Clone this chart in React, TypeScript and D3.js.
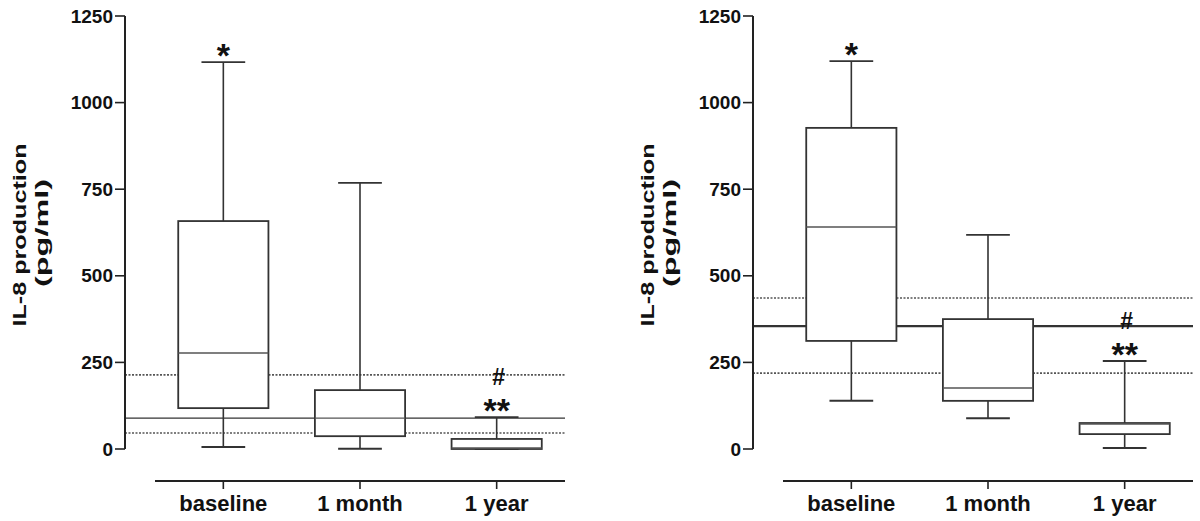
import React from "react";
import * as d3 from "d3";

const categories = ["baseline", "1 month", "1 year"];
const yTicks = [0, 250, 500, 750, 1000, 1250];

// Left panel box statistics
const leftMin = [6, 1, 0];
const leftQ1 = [118, 37, 0];
const leftMedian = [277, 89, 3];
const leftQ3 = [658, 170, 29];
const leftMax = [1117, 768, 92];
// reference lines: upper dotted, solid, lower dotted
const leftRef = [214, 89, 46];

// Right panel box statistics
const rightMin = [139, 89, 3];
const rightQ1 = [312, 139, 43];
const rightMedian = [641, 176, 72];
const rightQ3 = [927, 375, 75];
const rightMax = [1120, 618, 254];
const rightRef = [436, 355, 219];

// significance marks
const starMarks = ["*", "", "**"];
const hashMarks = ["", "", "#"];

const FONT = "'Liberation Sans', Arial, Helvetica, sans-serif";

type PanelProps = {
  axisX: number;
  mins: number[];
  q1: number[];
  med: number[];
  q3: number[];
  maxs: number[];
  refs: number[];
  solidWidth: number;
};

function Panel({ axisX, mins, q1, med, q3, maxs, refs, solidWidth }: PanelProps) {
  const y = d3.scaleLinear().domain([0, 1250]).range([449, 16]);
  const x = d3
    .scaleBand<string>()
    .domain(categories)
    .range([axisX + 30, axisX + 440])
    .padding(0);
  const bw = x.bandwidth();
  const boxW = bw * 0.66;
  const capW = bw * 0.32;
  const xEnd = axisX + 440;
  const boxStroke = "#333";

  return (
    <g>
      {/* reference lines */}
      <line x1={axisX} x2={xEnd} y1={y(refs[0])} y2={y(refs[0])} stroke="#555" strokeWidth={1.6} strokeDasharray="2 1.5" />
      <line x1={axisX} x2={xEnd} y1={y(refs[1])} y2={y(refs[1])} stroke="#333" strokeWidth={solidWidth} />
      <line x1={axisX} x2={xEnd} y1={y(refs[2])} y2={y(refs[2])} stroke="#555" strokeWidth={1.6} strokeDasharray="2 1.5" />

      {/* boxes */}
      {categories.map((c, i) => {
        const cx = (x(c) as number) + bw / 2;
        return (
          <g key={c}>
            <line x1={cx} x2={cx} y1={y(maxs[i])} y2={y(q3[i])} stroke={boxStroke} strokeWidth={1.6} />
            <line x1={cx} x2={cx} y1={y(q1[i])} y2={y(mins[i])} stroke={boxStroke} strokeWidth={1.6} />
            <line x1={cx - capW / 2} x2={cx + capW / 2} y1={y(maxs[i])} y2={y(maxs[i])} stroke={boxStroke} strokeWidth={1.8} />
            <line x1={cx - capW / 2} x2={cx + capW / 2} y1={y(mins[i])} y2={y(mins[i])} stroke={boxStroke} strokeWidth={2} />
            <rect
              x={cx - boxW / 2}
              y={y(q3[i])}
              width={boxW}
              height={Math.max(y(q1[i]) - y(q3[i]), 1)}
              fill="#fff"
              stroke={boxStroke}
              strokeWidth={1.8}
            />
            <line x1={cx - boxW / 2} x2={cx + boxW / 2} y1={y(med[i])} y2={y(med[i])} stroke="#555" strokeWidth={1.4} />
            {starMarks[i] && (
              <text
                x={cx}
                y={y(maxs[i]) + 5}
                textAnchor="middle"
                fontFamily={FONT}
                fontWeight="bold"
                fontSize={34}
                fill="#111"
              >
                {starMarks[i]}
              </text>
            )}
            {hashMarks[i] && (
              <text
                x={cx + 2}
                y={y(maxs[i]) - 32}
                textAnchor="middle"
                fontFamily={FONT}
                fontWeight="bold"
                fontSize={23}
                fill="#111"
              >
                {hashMarks[i]}
              </text>
            )}
          </g>
        );
      })}

      {/* y axis */}
      <line x1={axisX} x2={axisX} y1={y(0)} y2={y(1250)} stroke="#222" strokeWidth={2} />
      {yTicks.map((t) => (
        <g key={t}>
          <line x1={axisX - 10} x2={axisX} y1={y(t)} y2={y(t)} stroke="#222" strokeWidth={1.6} />
          <text
            x={axisX - 12}
            y={y(t)}
            textAnchor="end"
            dominantBaseline="central"
            fontFamily={FONT}
            fontWeight="bold"
            fontSize={19}
            fill="#111"
          >
            {t}
          </text>
        </g>
      ))}

      {/* y axis title */}
      <text
        transform={`translate(${axisX - 105},235) rotate(-90) scale(1.4,1)`}
        textAnchor="middle"
        dominantBaseline="central"
        fontFamily={FONT}
        fontWeight="bold"
        fontSize={18}
        fill="#111"
      >
        IL-8 production
      </text>
      <text
        transform={`translate(${axisX - 83},233) rotate(-90) scale(1.8,1)`}
        textAnchor="middle"
        dominantBaseline="central"
        fontFamily={FONT}
        fontWeight="bold"
        fontSize={18}
        fill="#111"
      >
        (pg/ml)
      </text>

      {/* x axis */}
      <line x1={axisX + 30} x2={xEnd} y1={481} y2={481} stroke="#222" strokeWidth={2.2} />
      {categories.map((c) => {
        const cx = (x(c) as number) + bw / 2;
        return (
          <g key={c}>
            <line x1={cx} x2={cx} y1={481} y2={489} stroke="#222" strokeWidth={1.6} />
            <text
              x={cx}
              y={511}
              textAnchor="middle"
              fontFamily={FONT}
              fontWeight="bold"
              fontSize={22}
              fill="#111"
            >
              {c}
            </text>
          </g>
        );
      })}
    </g>
  );
}

export default function App() {
  return (
    <svg
      width={1200}
      height={521}
      style={{ position: "absolute", left: 0, top: 0, background: "#fff" }}
    >
      <rect x={0} y={0} width={1200} height={521} fill="#fff" />
      <Panel
        axisX={125}
        mins={leftMin}
        q1={leftQ1}
        med={leftMedian}
        q3={leftQ3}
        maxs={leftMax}
        refs={leftRef}
        solidWidth={1.3}
      />
      <Panel
        axisX={753}
        mins={rightMin}
        q1={rightQ1}
        med={rightMedian}
        q3={rightQ3}
        maxs={rightMax}
        refs={rightRef}
        solidWidth={2.2}
      />
    </svg>
  );
}
